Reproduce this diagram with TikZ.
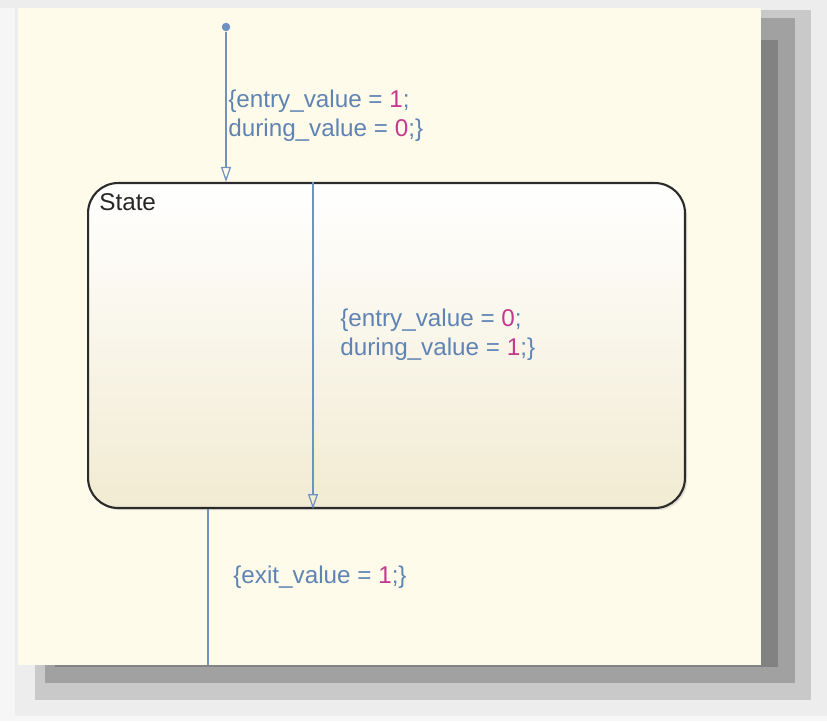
\documentclass[tikz,border=0pt]{standalone}
\usepackage{fontspec}
\setmainfont{Liberation Sans}
\usepackage{xcolor}
\usetikzlibrary{arrows.meta}
\usetikzlibrary{shadows}

\definecolor{chart}{HTML}{FFFBEA}
\definecolor{pagebg}{HTML}{F6F6F6}
\definecolor{stateline}{HTML}{2B2B2B}
\definecolor{statebot}{HTML}{F2EBD2}
\definecolor{transcol}{HTML}{6F92C2}
\definecolor{lblcol}{HTML}{5F84B4}
\definecolor{numcol}{HTML}{C4388E}

\newcommand{\val}[1]{\textcolor{numcol}{#1}}

\tikzset{
  state/.style={draw=stateline, line width=1.2pt, rounded corners=0.6cm,
    minimum width=11.94cm, minimum height=6.5cm,
    top color=white, bottom color=statebot,
    drop shadow={opacity=0.25, shadow xshift=1.2pt, shadow yshift=-1.2pt}},
  trans/.style={draw=transcol, line width=0.7pt},
  tip/.style={-{Triangle[open, length=0.3cm, width=0.2cm]}},
  lbl/.style={anchor=north west, inner sep=0, align=left, text=lblcol,
    font=\fontsize{13.8}{16.5}\selectfont}
}

\begin{document}
\begin{tikzpicture}[x=0.02cm, y=-0.02cm]
\useasboundingbox (0,0) rectangle (827,721);
\fill[pagebg] (0,0) rectangle (827,721);
\fill[gray!14] (0,0) rectangle (827,8);
% blurred window shadow, outer to inner
\fill[black!7] (15,5) rectangle (827,716);
\fill[black!21] (35,10) rectangle (811,700);
\fill[black!37] (45,18) rectangle (795,683);
\fill[black!49] (55,40) rectangle (778,667);
\fill[chart] (18,8) rectangle (761,665);

\node (state) [state] at (386.5,345.5) {};
\node (statename) [anchor=north west, inner sep=0, text=black!85,
  font=\fontsize{13.8}{16.5}\selectfont] at ([shift={(12,11)}]state.north west) {State};

\node (init) [circle, fill=transcol, inner sep=0, minimum size=0.17cm] at (226,27) {};
\draw[trans, tip] (init) -- (init |- state.north);

\coordinate (selftop) at (313,0 |- state.north);
\coordinate (selfbot) at (313,0 |- state.south);
\draw[trans, tip] (selftop) -- (selfbot);

\coordinate (exitstart) at (208,0 |- state.south);
\coordinate (exitend) at (208,665);
\draw[trans] (exitstart) -- (exitend);

\node (initlbl) [lbl] at (228,90) {\{entry\_value = \val{1};\\during\_value = \val{0};\}};
\node (selflbl) [lbl] at (340,309) {\{entry\_value = \val{0};\\during\_value = \val{1};\}};
\node (exitlbl) [lbl] at (233,566) {\{exit\_value = \val{1};\}};
\end{tikzpicture}
\end{document}
